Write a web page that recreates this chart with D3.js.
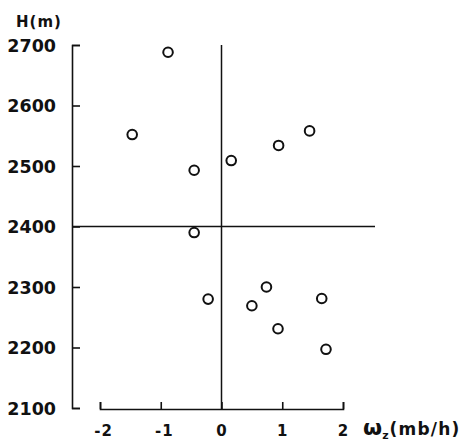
<!DOCTYPE html>
<html>
<head>
<meta charset="utf-8">
<script src="https://cdn.jsdelivr.net/npm/d3@7/dist/d3.min.js"></script>
<style>
  html, body { margin: 0; padding: 0; background: #fff; }
  svg { display: block; }
  text { font-family: "DejaVu Sans", sans-serif; font-weight: bold; fill: #111; }
</style>
</head>
<body>
<svg id="chart" width="465" height="441"></svg>
<script>
// Data: omega_z (mb/h) vs H (m)
const omega = [-0.88, -1.47, -0.45, 0.16, 0.94, 1.45, -0.45, -0.22, 0.74, 0.50, 0.93, 1.65, 1.72];
const height = [2688, 2552, 2493, 2509, 2534, 2558, 2390, 2280, 2300, 2269, 2231, 2281, 2197];
const xTicks = [-2, -1, 0, 1, 2];
const yTicks = [2100, 2200, 2300, 2400, 2500, 2600, 2700];
const xTickLabels = ["-2", "-1", "0", "1", "2"];
const yTickLabels = ["2100", "2200", "2300", "2400", "2500", "2600", "2700"];
const refH = 2400, refOmega = 0;

const svg = d3.select("#chart");
const ink = "#111";

const x = d3.scaleLinear().domain([-2, 2]).range([100, 343]);
const y = d3.scaleLinear().domain([2100, 2700]).range([408, 45]);

// Y axis (ticks point right, labels on left)
const yAxis = d3.axisRight(y).tickValues(yTicks).tickSize(8)
  .tickFormat((d, i) => yTickLabels[i]);
const gy = svg.append("g").attr("transform", "translate(72,0)").call(yAxis);
gy.select(".domain").attr("stroke", ink).attr("stroke-width", 1.6);
gy.selectAll(".tick line").attr("stroke", ink).attr("stroke-width", 1.6);
gy.selectAll(".tick text")
  .attr("x", -16).attr("dy", "0.36em")
  .attr("text-anchor", "end")
  .style("font-size", "17.5px").style("font-family", "DejaVu Sans").style("font-weight", "bold")
  .attr("fill", ink);

// X axis (ticks point up, labels below)
const xAxis = d3.axisTop(x).tickValues(xTicks).tickSize(7)
  .tickFormat((d, i) => xTickLabels[i]);
const gx = svg.append("g").attr("transform", "translate(0,409)").call(xAxis);
gx.select(".domain").attr("stroke", ink).attr("stroke-width", 1.6);
gx.selectAll(".tick line").attr("stroke", ink).attr("stroke-width", 1.6);
gx.selectAll(".tick text")
  .attr("y", 27).attr("dy", 0)
  .attr("dx", d => d < 0 ? 3 : 0)
  .attr("text-anchor", "middle")
  .style("font-size", "15px").style("font-family", "DejaVu Sans").style("font-weight", "bold")
  .style("letter-spacing", "1px")
  .attr("fill", ink);

// Reference lines
svg.append("line")
  .attr("x1", x(refOmega)).attr("x2", x(refOmega))
  .attr("y1", y(2700)).attr("y2", 409)
  .attr("stroke", ink).attr("stroke-width", 1.5);
svg.append("line")
  .attr("x1", 72).attr("x2", 375)
  .attr("y1", y(refH)).attr("y2", y(refH))
  .attr("stroke", ink).attr("stroke-width", 1.5);

// Points
svg.append("g").selectAll("circle")
  .data(omega.map((d, i) => [d, height[i]]))
  .join("circle")
  .attr("cx", d => x(d[0]))
  .attr("cy", d => y(d[1]))
  .attr("r", 4.8)
  .attr("fill", "none")
  .attr("stroke", ink)
  .attr("stroke-width", 2);

// Axis titles
svg.append("text")
  .attr("x", 16).attr("y", 27)
  .style("font-size", "15px").style("letter-spacing", "1px")
  .text("H(m)");

const xt = svg.append("text")
  .attr("x", 363).attr("y", 435)
  .style("font-size", "17px");
xt.append("tspan").style("font-size", "22px").text("ω");
xt.append("tspan").attr("dy", 4).style("font-size", "11px").text("z");
xt.append("tspan").attr("dy", -4).attr("dx", 1).style("letter-spacing", "1.2px").text("(mb/h)");
</script>
</body>
</html>
